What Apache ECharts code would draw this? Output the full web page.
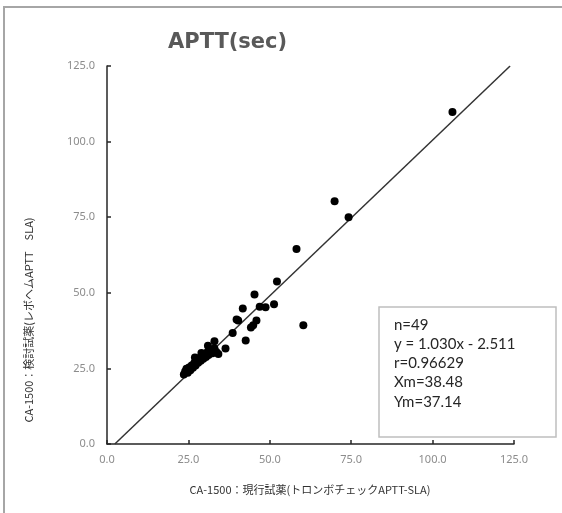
<!DOCTYPE html>
<html>
<head>
<meta charset="utf-8">
<title>APTT(sec)</title>
<script src="https://cdn.jsdelivr.net/npm/echarts@6/dist/echarts.min.js"></script>
<style>
	html, body { margin: 0; padding: 0; background: #fff; }
	#main { width: 562px; height: 513px; }
</style>
</head>
<body>
<div id="main"></div>
<script type="text/javascript">
	// 現行試薬 (x) vs 検討試薬 (y)
	var xValues = [106.1, 69.9, 74.2, 58.2, 52.2, 45.3, 46.9, 48.7, 51.3, 41.7,
		39.8, 40.3, 45.9, 44.9, 44.2, 60.3, 38.6, 42.6, 33.0, 36.4,
		29.0, 31.6,
		23.6, 24.0, 24.4, 24.8, 25.2, 25.6, 26.0, 26.4, 26.8, 27.2,
		27.6, 28.0, 28.4, 28.8, 29.2, 29.6, 30.0, 30.4, 30.8, 31.2,
		31.8, 32.4, 33.0, 33.6, 34.2, 31.0, 27.0];
	var yValues = [109.8, 80.3, 75.0, 64.5, 53.7, 49.4, 45.4, 45.2, 46.2, 44.8,
		41.2, 40.8, 40.8, 39.3, 38.5, 39.3, 36.7, 34.2, 34.0, 31.6,
		30.1, 30.7,
		23.0, 24.0, 24.9, 23.6, 25.3, 24.4, 26.0, 25.2, 26.8, 26.0,
		27.8, 26.9, 28.4, 27.5, 29.0, 28.2, 29.6, 28.8, 30.3, 29.4,
		31.0, 30.0, 31.6, 30.4, 29.8, 32.5, 28.6];
	// 回帰直線の端点
	var fitX = [2.4, 123.8];
	var fitY = [0, 125];
	var tickValues = [0, 25, 50, 75, 100, 125];
	var statLines = ["n=49", "y = 1.030x - 2.511", "r=0.96629", "Xm=38.48", "Ym=37.14"];

	var points = [];
	for (var i = 0; i < xValues.length; i++) {
		points.push([xValues[i], yValues[i]]);
	}
	var fitLine = [[fitX[0], fitY[0]], [fitX[1], fitY[1]]];

	var jpFont = "'Noto Sans CJK JP', sans-serif";

	function axisOpt() {
		return {
			type: 'value',
			min: tickValues[0],
			max: tickValues[tickValues.length - 1],
			interval: 25,
			splitLine: { show: false },
			axisLine: { show: true, lineStyle: { color: '#262626', width: 1.5 } },
			axisTick: { show: true, inside: true, length: 4, lineStyle: { color: '#262626', width: 1.5 } },
			axisLabel: {
				color: '#8c8c8c',
				fontSize: 11,
				fontFamily: "'Noto Sans', sans-serif",
				formatter: function (v) { return v.toFixed(1); }
			}
		};
	}

	var xAxis = axisOpt();
	xAxis.axisLabel.margin = 10;
	var yAxis = axisOpt();
	yAxis.axisLabel.margin = 12;

	var statTexts = statLines.map(function (t, idx) {
		return {
			type: 'text',
			x: 394,
			y: 325 + idx * 19.2,
			z: 11,
			style: { text: t, fill: '#262626', fontSize: 15, fontFamily: "Lato, 'Open Sans', sans-serif", textVerticalAlign: 'middle' }
		};
	});

	var graphics = [{
		type: 'rect',
		shape: { x: 4, y: 7, width: 620, height: 620 },
		style: { fill: 'none', stroke: '#a6a6a6', lineWidth: 2 },
		z: 0
	}, {
		type: 'text',
		x: 310,
		y: 490,
		style: { text: 'CA-1500：現行試薬(トロンボチェックAPTT-SLA)', fill: '#333', fontSize: 11, fontFamily: jpFont, textAlign: 'center', textVerticalAlign: 'middle' }
	}, {
		type: 'text',
		x: 29,
		y: 320,
		rotation: Math.PI / 2,
		style: { text: 'CA-1500：検討試薬(レボヘムAPTT　SLA)', fill: '#333', fontSize: 11, fontFamily: jpFont, textAlign: 'center', textVerticalAlign: 'middle' }
	}, {
		type: 'rect',
		shape: { x: 379, y: 307, width: 177, height: 130 },
		style: { fill: '#fff', stroke: '#bfbfbf', lineWidth: 1.5 },
		z: 10
	}].concat(statTexts);

	var option = {
		animation: false,
		title: {
			text: 'APTT(sec)',
			left: 163,
			top: 27,
			textStyle: { color: '#595959', fontSize: 21, fontWeight: 'bold', fontFamily: "'DejaVu Sans', sans-serif" }
		},
		grid: { left: 107, right: 48, top: 66, bottom: 69 },
		xAxis: xAxis,
		yAxis: yAxis,
		series: [{
			type: 'line',
			data: fitLine,
			symbol: 'none',
			lineStyle: { color: '#333', width: 1.5 },
			z: 2
		}, {
			type: 'scatter',
			data: points,
			symbolSize: 8,
			itemStyle: { color: '#000', opacity: 1 },
			z: 3
		}],
		graphic: graphics
	};

	var chart = echarts.init(document.getElementById('main'));
	chart.setOption(option);
</script>
</body>
</html>
